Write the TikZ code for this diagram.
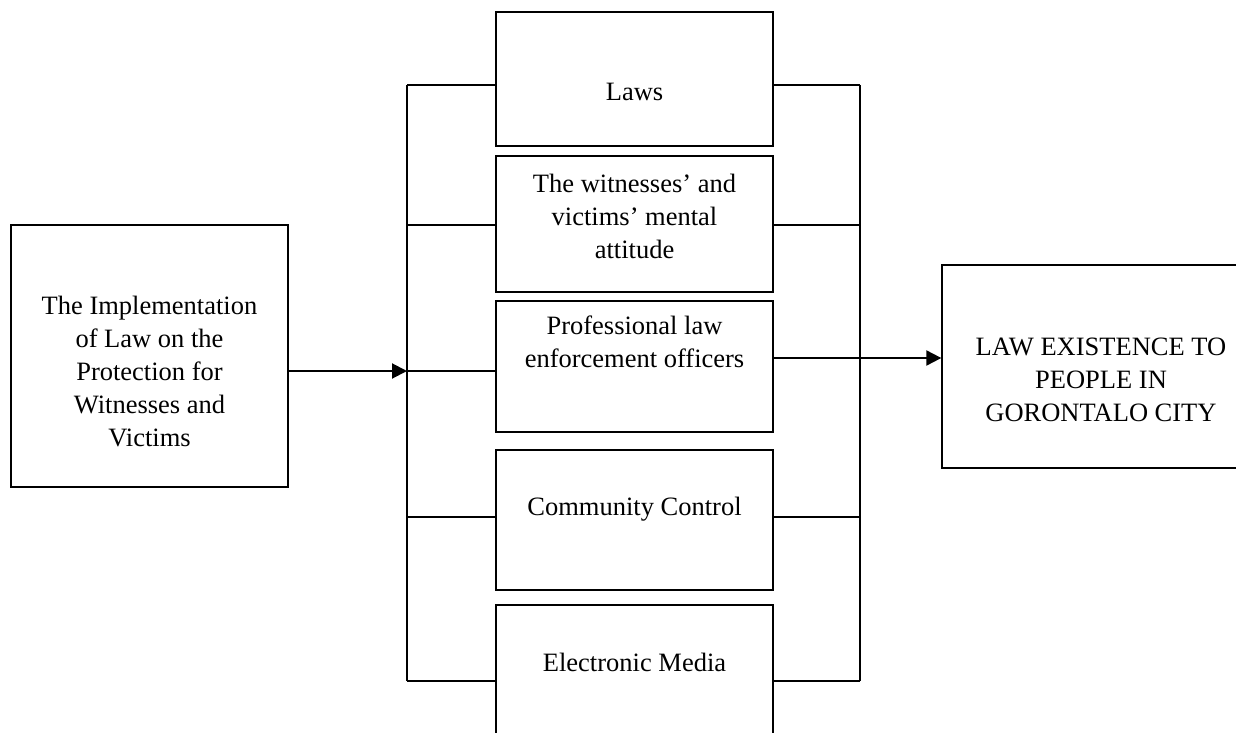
\documentclass[tikz,border=0pt]{standalone}
\usepackage{fontspec}
\setmainfont{Liberation Serif}
\usetikzlibrary{arrows.meta}

\begin{document}
\begin{tikzpicture}[x=1pt,y=-1pt,line width=1.3pt,
    box/.style={draw,minimum width=277,inner sep=0pt},
    txt/.style={align=center,inner sep=0pt,font=\fontsize{26.5}{33}\selectfont},
    arr/.style={line width=2pt,-{Triangle[length=15pt,width=15pt]}}]
          \useasboundingbox (0,0) rectangle (1236,733);

          \node[box,minimum width=277,minimum height=262] (impl) at (149.5,356) {};
          \node[txt] (implt) at (149.5,372) {The Implementation\\of Law on the\\Protection for\\Witnesses and\\Victims};

          \node[box,minimum height=134] (laws)     at (634.5,79)  {};
          \node[box,minimum height=136] (attitude) at (634.5,224) {};
          \node[box,minimum height=131] (officers) at (634.5,366.5) {};
          \node[box,minimum height=140] (control)  at (634.5,520) {};
          \node[box,minimum height=160] (media)    at (634.5,685) {};

          \node[txt] (lawst)     at (634.5,92)  {Laws};
          \node[txt] (attitudet) at (634.5,216) {The witnesses’ and\\victims’ mental\\attitude};
          \node[txt] (officerst) at (634.5,342) {Professional law\\enforcement officers};
          \node[txt] (controlt)  at (634.5,509) {Community Control};
          \node[txt] (mediat)    at (634.5,662) {Electronic Media};

          \node[box,minimum width=318,minimum height=203] (exist) at (1101,366.5) {};
          \node[txt] (existt) at (1101,380) {LAW EXISTENCE TO\\PEOPLE IN\\GORONTALO CITY};

          \coordinate (lt) at (407,85);
          \coordinate (lb) at (407,681);
          \coordinate (rt) at (860,85);
          \coordinate (rb) at (860,681);
          \draw (lt) -- (lb);
          \draw (rt) -- (rb);

          \foreach \y/\b in {85/laws,225/attitude,371/officers,517/control,681/media}
            \draw (407,\y) coordinate (L\b) -- (L\b -| \b.west);
          \foreach \y/\b in {85/laws,225/attitude,517/control,681/media}
            \draw (860,\y) coordinate (R\b) -- (R\b -| \b.east);

          \draw[arr] (impl.east |- Lofficers) -- (Lofficers);
          \coordinate (out) at (773,358);
          \draw[arr] (out -| officers.east) -- (out -| exist.west);

        \end{tikzpicture}
\end{document}
